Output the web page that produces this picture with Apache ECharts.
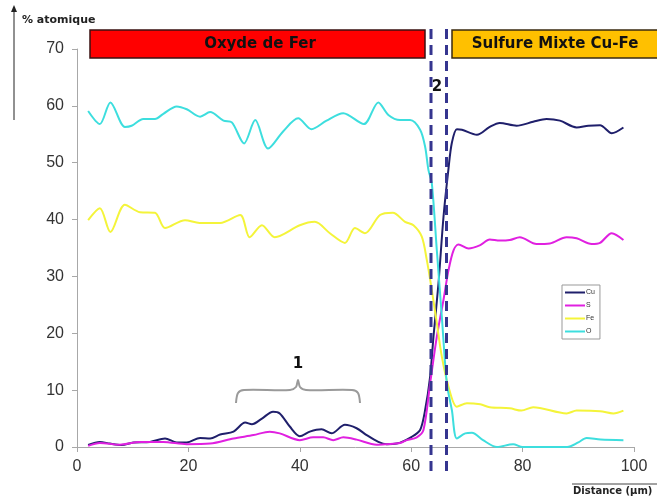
<!DOCTYPE html>
<html>
<head>
<meta charset="utf-8">
<script src="https://cdn.jsdelivr.net/npm/echarts@6/dist/echarts.min.js"></script>
<style>
html,body{margin:0;padding:0;background:#fff;}
#c{width:657px;height:499px;}
</style>
</head>
<body>
<div id="c"></div>
<script>
// ---- data ----
const xTicks = [0, 20, 40, 60, 80, 100];
const yTicks = [0, 10, 20, 30, 40, 50, 60, 70];

const cuX = [2,4.1,5.9,8,10.1,13.1,15.8,17.9,19.7,22.1,23.9,25.7,28.1,30.2,31.4,33.2,35.2,36.4,38.2,40,41.8,43.9,45.7,48.1,50.2,52,54.1,55.6,57.4,60.1,61.6,62.5,63.4,64,64.9,65.8,66.7,67.3,68.2,69.1,71.8,74.1,75.9,78.9,81.9,84.3,86.7,89.7,91.8,93.9,96,98.1];
const cuY = [0.35,0.9,0.6,0.35,0.8,0.9,1.5,0.8,0.8,1.6,1.5,2.2,2.7,4.3,4.0,5.0,6.2,5.9,3.6,1.9,2.7,3.1,2.4,3.9,3.3,2.1,0.9,0.5,0.6,1.8,3.0,6.5,12.4,19.4,28.8,40.5,49,53.5,55.9,55.8,54.9,56.3,57.0,56.5,57.2,57.7,57.4,56.2,56.5,56.6,55.2,56.2];

const sX = [2,4.1,7.7,11.3,15.5,19.7,23.9,28.1,31.7,34.6,36.4,40,42.4,44.2,46,47.8,50.2,53.8,55.6,58,59.2,61,62.2,63.4,64.6,65.8,66.7,67.6,68.5,70.3,72.4,74.1,75.9,77.7,79.5,82.5,84.9,87.9,89.7,92.4,93.9,96,98.1];
const sY = [0.2,0.7,0.4,0.9,0.9,0.5,0.6,1.5,2.1,2.7,2.4,1.2,1.7,1.7,1.2,1.7,1.3,0.4,0.5,0.7,1.2,1.7,3.0,11.2,19.4,25.9,31.1,34.6,35.6,34.9,35.5,36.5,36.3,36.4,36.9,35.7,35.8,36.9,36.7,35.7,35.9,37.6,36.4];

const feX = [2,4.1,6,8.6,11.3,14,15.8,19.4,22,25.7,29.3,31,33.2,35.5,40,42.7,45.4,48.1,49.9,51.7,54.4,56.7,58.9,60.4,61.9,62.8,63.7,64.6,65.5,66.7,68.2,70,72.4,74.1,77.7,79.8,81.9,87.9,89.7,93.9,96.3,98.1];
const feY = [39.9,42,37.8,42.6,41.3,41.2,38.5,39.9,39.4,39.4,40.8,36.9,39,36.9,39,39.6,37.6,35.9,38.5,37.6,40.8,41.2,39.6,39.0,37.0,32.9,27.6,21.8,15.9,10.6,7.1,7.7,7.5,7.0,6.8,6.4,7.0,5.9,6.4,6.3,5.9,6.4];

const oX = [2,4.1,6,8.6,9.8,11.9,14,15.5,17.9,19.7,22.1,23.9,26.3,27.8,30,32,34.3,37,39.7,42.1,44.8,47.8,51.5,54.1,55.9,58,59.8,61.6,62.5,63.1,63.7,64.6,65.5,66.4,67.3,68.2,69.7,70.9,72.9,75.4,78.3,80,88,90,91.5,94,98.1];
const oY = [59.1,56.8,60.6,56.3,56.5,57.7,57.7,58.6,59.9,59.4,58.1,58.9,57.4,57.1,53.4,57.5,52.5,55.5,57.8,55.9,57.4,58.7,56.8,60.6,58.4,57.5,57.5,55.8,52.8,48.7,46.4,34.6,22.9,11.2,6.5,1.5,2.4,2.5,1.2,0,0.5,0,0,0.8,1.6,1.3,1.2];

const seriesNames = ['Cu', 'S', 'Fe', 'O'];
const seriesColors = ['#1f1f6b', '#e020e0', '#f4f43a', '#3ddede'];
const seriesXs = [cuX, sX, feX, oX];
const seriesYs = [cuY, sY, feY, oY];

const zoneLabels = ['Oxyde de Fer', 'Sulfure Mixte Cu-Fe'];
const yTitle = '% atomique';
const xTitle = 'Distance (µm)';

// ---- chart ----
const chart = echarts.init(document.getElementById('c'), null, {renderer: 'canvas'});
const font = 'Liberation Sans, Arial, sans-serif';
const wfont = 'DejaVu Sans, Verdana, sans-serif';

const series = seriesNames.map((n, i) => ({
  name: n,
  type: 'line',
  data: seriesXs[i].map((x, k) => [x, seriesYs[i][k]]),
  showSymbol: false,
  smooth: 0.3,
  lineStyle: {width: 2, color: seriesColors[i]},
  itemStyle: {color: seriesColors[i]},
  animation: false
}));

const axisGray = '#a8a8a8';
const dashColor = '#35358f';

chart.setOption({
  backgroundColor: '#fff',
  animation: false,
  grid: {left: 77, right: 23, top: 49, bottom: 52, containLabel: false},
  xAxis: {
    type: 'value', min: 0, max: 100, interval: 20,
    axisLine: {show: true, lineStyle: {color: axisGray, width: 1}},
    axisTick: {show: true, length: 5, lineStyle: {color: axisGray}},
    splitLine: {show: false},
    axisLabel: {color: '#333', fontSize: 16, fontFamily: font, margin: 12}
  },
  yAxis: {
    type: 'value', min: 0, max: 70, interval: 10,
    axisLine: {show: true, lineStyle: {color: axisGray, width: 1}},
    axisTick: {show: true, length: 5, lineStyle: {color: axisGray}},
    splitLine: {show: false},
    axisLabel: {color: '#333', fontSize: 16, fontFamily: font, margin: 13}
  },
  legend: {
    orient: 'vertical', left: 562, top: 285,
    icon: 'rect', itemWidth: 20, itemHeight: 2, itemGap: 6,
    padding: [4, 5, 4, 3],
    borderColor: '#999', borderWidth: 1,
    textStyle: {fontSize: 7, color: '#333', fontFamily: font, padding: [0, 0, 0, -4]},
    data: seriesNames
  },
  series: series,
  graphic: [
    // y axis arrow
    {type: 'line', shape: {x1: 14, y1: 120, x2: 14, y2: 10}, style: {stroke: '#222', lineWidth: 1}},
    {type: 'polygon', shape: {points: [[14, 5], [11, 12], [17, 12]]}, style: {fill: '#222'}},
    {type: 'text', left: 22, top: 15, style: {text: yTitle, fontSize: 11, fontWeight: 'bold', fill: '#222', fontFamily: wfont}},
    // x title
    {type: 'line', shape: {x1: 572, y1: 484, x2: 657, y2: 484}, style: {stroke: '#444', lineWidth: 1}},
    {type: 'text', left: 573, top: 486, style: {text: xTitle, fontSize: 10, fontWeight: 'bold', fill: '#222', fontFamily: wfont}},
    // zone boxes
    {type: 'rect', shape: {x: 90, y: 30, width: 335, height: 28}, style: {fill: '#ff0000', stroke: '#3a1010', lineWidth: 1.5}},
    {type: 'text', x: 260, y: 44, style: {text: zoneLabels[0], fontSize: 15, fontWeight: 'bold', fill: '#111', fontFamily: wfont, align: 'center', verticalAlign: 'middle'}},
    {type: 'rect', shape: {x: 452, y: 30, width: 210, height: 28}, style: {fill: '#ffc000', stroke: '#3a2a10', lineWidth: 1.5}},
    {type: 'text', x: 555, y: 44, style: {text: zoneLabels[1], fontSize: 15, fontWeight: 'bold', fill: '#111', fontFamily: wfont, align: 'center', verticalAlign: 'middle'}},
    // dashed interface lines
    {type: 'line', z: 100, shape: {x1: 431, y1: 29, x2: 431, y2: 476}, style: {stroke: dashColor, lineWidth: 3, lineDash: [10, 6]}},
    {type: 'line', z: 100, shape: {x1: 446.5, y1: 29, x2: 446.5, y2: 476}, style: {stroke: dashColor, lineWidth: 3, lineDash: [10, 6]}},
    {type: 'text', x: 437, y: 87, z: 101, style: {text: '2', fontSize: 15, fontWeight: 'bold', fill: '#111', fontFamily: wfont, align: 'center', verticalAlign: 'middle'}},
    // bracket 1
    {type: 'polyline', shape: {points: [[236, 403], [238, 393], [244, 390], [290, 390], [296, 387], [298, 380], [300, 387], [306, 390], [352, 390], [358, 393], [360, 403]], smooth: 0.3}, style: {stroke: '#9a9a9a', lineWidth: 2, fill: null}},
    {type: 'text', x: 298, y: 364, style: {text: '1', fontSize: 15, fontWeight: 'bold', fill: '#111', fontFamily: wfont, align: 'center', verticalAlign: 'middle'}}
  ]
});
</script>
</body>
</html>
